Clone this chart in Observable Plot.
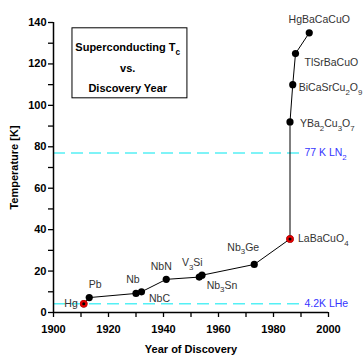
<!DOCTYPE html>
<html>
<head>
<meta charset="utf-8">
<script src="https://cdn.jsdelivr.net/npm/d3@7"></script>
<script src="https://cdn.jsdelivr.net/npm/@observablehq/plot@0.6"></script>
<style>
  html, body { margin: 0; padding: 0; background: #fff; }
  #chart { width: 363px; height: 360px; }
</style>
</head>
<body>
<div id="chart"></div>
<script>
// ---- data ----
const materials = ["Hg", "Pb", "Nb", "NbC", "NbN", "V_3Si", "Nb_3Sn", "Nb_3Ge", "LaBaCuO_4", "YBa_2Cu_3O_7", "BiCaSrCu_2O_9", "TlSrBaCuO", "HgBaCaCuO"];
const years     = [1911, 1913, 1930, 1932, 1941, 1953, 1954, 1973, 1986, 1986, 1987, 1988, 1993];
const tcValues  = [4.2, 7.2, 9.2, 10.0, 16.0, 17.1, 18.0, 23.2, 35.5, 92, 110, 125, 135];
const highlighted = ["Hg", "LaBaCuO_4"];

const refTemps  = [77, 4.2];
const refLabels = ["77 K LN_2", "4.2K LHe"];

const xTicks = [1900, 1920, 1940, 1960, 1980, 2000];
const yTicks = [0, 20, 40, 60, 80, 100, 120, 140];
const titleLines = ["Superconducting T_c", "vs.", "Discovery Year"];

// label placement (pixel offsets from each point)
const labelPlacement = {
  "Hg":            {dx: -6,  dy: 0,   anchor: "end"},
  "Pb":            {dx: 6,   dy: -13, anchor: "middle"},
  "Nb":            {dx: -3,  dy: -14, anchor: "middle"},
  "NbC":           {dx: 18,  dy: 7,   anchor: "middle"},
  "NbN":           {dx: -5,  dy: -13, anchor: "middle"},
  "V_3Si":         {dx: -7,  dy: -14, anchor: "middle"},
  "Nb_3Sn":        {dx: 20,  dy: 10,  anchor: "middle"},
  "Nb_3Ge":        {dx: -11, dy: -17, anchor: "middle"},
  "LaBaCuO_4":     {dx: 8,   dy: 0,   anchor: "start"},
  "YBa_2Cu_3O_7":  {dx: 10,  dy: 2,   anchor: "start"},
  "BiCaSrCu_2O_9": {dx: 6,   dy: 3,   anchor: "start"},
  "TlSrBaCuO":     {dx: 9,   dy: 9,   anchor: "start"},
  "HgBaCaCuO":     {dx: 10,  dy: -13, anchor: "middle"}
};

const data = materials.map((m, i) => ({name: m, year: years[i], tc: tcValues[i]}));
const refs = refTemps.map((t, i) => ({t, label: refLabels[i]}));
const red = data.filter(d => highlighted.includes(d.name));

const FONT = "'Liberation Sans', Arial, Helvetica, sans-serif";

const labelMarks = data.map(d => {
  const p = labelPlacement[d.name];
  return Plot.text([d], {x: "year", y: "tc", text: "name", dx: p.dx, dy: p.dy, textAnchor: p.anchor,
    fill: "#333", fontSize: 10.5, fontWeight: "normal", fontFamily: FONT});
});

// annotation box (in data units) and title line positions
const box = [{x1: 1906.9, x2: 1948.7, y1: 103.4, y2: 137.2}];
const titleY = [127.9, 117.8, 108.1];

const plot = Plot.plot({
  width: 363,
  height: 360,
  marginTop: 22,
  marginBottom: 48,
  marginLeft: 53,
  marginRight: 35,
  style: {fontFamily: FONT, fontSize: "11px", background: "#fff", color: "#000", overflow: "visible"},
  x: {domain: [1900, 2000]},
  y: {domain: [0, 140]},
  marks: [
    Plot.ruleY(refs, {y: "t", x1: 1900, x2: 1990.5, stroke: "#55f0f5", strokeWidth: 1.4, strokeDasharray: "12,6"}),
    Plot.text(refs, {y: "t", x: 1990.5, text: "label", dx: 2, textAnchor: "start", fill: "#3535ff", fontSize: 10.5, fontFamily: FONT}),
    Plot.rect(box, {x1: "x1", x2: "x2", y1: "y1", y2: "y2", fill: "#fff", stroke: "#000", strokeWidth: 1}),
    Plot.text(titleLines, {x: titleLines.map(() => 1927), y: titleY, text: titleLines, fontWeight: "bold", fontSize: 11, fill: "#000", textAnchor: "middle"}),
    Plot.axisX({ticks: d3.range(1900, 2001, 10), tickFormat: d => d % 20 === 0 ? String(d) : "", tickSize: 5, tickPadding: 8, strokeWidth: 1.3, fontWeight: "bold", fontSize: 11, label: "Year of Discovery", labelAnchor: "center", labelArrow: "none", labelOffset: 40}),
    Plot.axisY({ticks: d3.range(0, 141, 10), tickFormat: d => d % 20 === 0 ? String(d) : "", tickSize: 5, tickPadding: 2, strokeWidth: 1.3, fontWeight: "bold", fontSize: 11, label: "Temperature [K]", labelAnchor: "center", labelArrow: "none", labelOffset: 43}),
    Plot.ruleX([1900], {stroke: "#000", strokeWidth: 1.5}),
    Plot.ruleY([0], {stroke: "#000", strokeWidth: 1.5}),
    Plot.line(data, {x: "year", y: "tc", stroke: "#000", strokeWidth: 1}),
    Plot.dot(data, {x: "year", y: "tc", r: 3.6, fill: "#000"}),
    Plot.dot(red, {x: "year", y: "tc", r: 3.8, fill: "#e00000"}),
    Plot.dot(red, {x: "year", y: "tc", r: 1.5, fill: "#000"}),
    ...labelMarks
  ]
});

// subscripts: "_x" -> subscript x
function applySubs(svg) {
  const NS = "http://www.w3.org/2000/svg";
  svg.querySelectorAll("text").forEach(t => {
    const tsp = t.querySelectorAll("tspan");
    const targets = tsp.length ? Array.from(tsp) : [t];
    targets.forEach(el => {
      const s = el.textContent;
      if (!s.includes("_")) return;
      el.textContent = "";
      const parts = s.split(/_(.)/);
      let inSub = false;
      parts.forEach((p, i) => {
        if (!p) return;
        const isSub = i % 2 === 1;
        const ts = document.createElementNS(NS, "tspan");
        ts.textContent = p;
        if (isSub) {
          ts.setAttribute("font-size", "75%");
          if (!inSub) ts.setAttribute("dy", "3.5");
        } else if (inSub) {
          ts.setAttribute("dy", "-3.5");
        }
        inSub = isSub;
        el.appendChild(ts);
      });
    });
  });
}
applySubs(plot);
document.getElementById("chart").appendChild(plot);
</script>
</body>
</html>
